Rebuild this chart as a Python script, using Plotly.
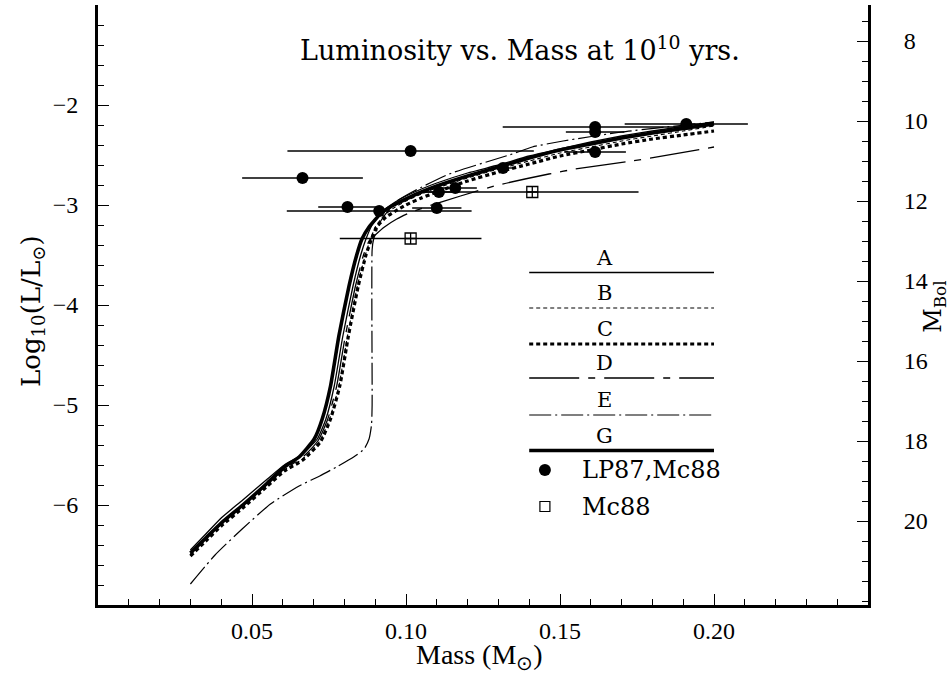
import plotly.graph_objects as go

# ---------------- data ----------------
M_SUN_BOL = 4.6  # M_Bol = M_SUN_BOL - 2.5 log10(L/Lsun)

# Model curves (mass in Msun, log10 L/Lsun)
mass_G = [0.030, 0.035, 0.040, 0.047, 0.055, 0.0605, 0.0653, 0.0702, 0.0728, 0.0755, 0.0782, 0.0815, 0.0840, 0.0857, 0.0880, 0.0920, 0.0960, 0.1000, 0.1050, 0.1100, 0.1200, 0.1300, 0.1400, 0.1500, 0.1600, 0.1700, 0.1800, 0.1900, 0.2000]
logL_G = [-6.48, -6.33, -6.18, -6.00, -5.78, -5.62, -5.52, -5.34, -5.14, -4.81, -4.31, -3.81, -3.50, -3.34, -3.22, -3.08, -3.00, -2.94, -2.87, -2.81, -2.71, -2.62, -2.53, -2.45, -2.39, -2.33, -2.28, -2.235, -2.19]

mass_A = [0.030, 0.035, 0.040, 0.047, 0.055, 0.0605, 0.0660, 0.0712, 0.0740, 0.0767, 0.0795, 0.0828, 0.0853, 0.0870, 0.0890, 0.0925, 0.0965, 0.1000, 0.1050, 0.1100, 0.1200, 0.1300, 0.1400, 0.1500, 0.1600, 0.1700, 0.1800, 0.1900, 0.2000]
logL_A = [-6.45, -6.29, -6.13, -5.95, -5.74, -5.60, -5.50, -5.34, -5.14, -4.81, -4.31, -3.81, -3.50, -3.34, -3.20, -3.06, -2.97, -2.91, -2.84, -2.78, -2.68, -2.60, -2.51, -2.44, -2.37, -2.31, -2.26, -2.215, -2.17]

mass_B = [0.030, 0.035, 0.040, 0.047, 0.055, 0.0605, 0.0665, 0.0720, 0.0752, 0.0782, 0.0810, 0.0842, 0.0868, 0.0885, 0.0900, 0.0930, 0.0965, 0.1000, 0.1050, 0.1100, 0.1200, 0.1300, 0.1400, 0.1500, 0.1600, 0.1700, 0.1800, 0.1900, 0.2000]
logL_B = [-6.50, -6.35, -6.20, -6.02, -5.80, -5.65, -5.54, -5.36, -5.14, -4.81, -4.31, -3.81, -3.50, -3.34, -3.22, -3.10, -3.02, -2.96, -2.89, -2.83, -2.73, -2.64, -2.56, -2.48, -2.42, -2.36, -2.31, -2.26, -2.21]

mass_C = [0.030, 0.035, 0.040, 0.047, 0.055, 0.0605, 0.0665, 0.0722, 0.0755, 0.0785, 0.0813, 0.0845, 0.0870, 0.0888, 0.0905, 0.0935, 0.0966, 0.1000, 0.1050, 0.1100, 0.1200, 0.1300, 0.1400, 0.1500, 0.1600, 0.1700, 0.1800, 0.1900, 0.2000]
logL_C = [-6.51, -6.36, -6.21, -6.03, -5.81, -5.66, -5.55, -5.37, -5.14, -4.81, -4.31, -3.81, -3.50, -3.34, -3.22, -3.12, -3.06, -3.00, -2.93, -2.87, -2.76, -2.67, -2.59, -2.51, -2.45, -2.39, -2.34, -2.30, -2.26]

mass_D = [0.030, 0.035, 0.040, 0.047, 0.055, 0.0605, 0.0662, 0.0716, 0.0746, 0.0775, 0.0803, 0.0836, 0.0862, 0.0880, 0.0900, 0.0930, 0.0970, 0.1010, 0.1064, 0.1177, 0.1300, 0.1464, 0.1550, 0.1734, 0.2000]
logL_D = [-6.49, -6.34, -6.19, -6.01, -5.79, -5.64, -5.53, -5.35, -5.14, -4.81, -4.31, -3.81, -3.50, -3.36, -3.30, -3.22, -3.14, -3.08, -3.02, -2.91, -2.80, -2.69, -2.64, -2.56, -2.42]

mass_E = [0.030, 0.038, 0.0468, 0.0560, 0.0653, 0.0720, 0.0780, 0.0830, 0.0864, 0.0880, 0.0888, 0.0890, 0.0890, 0.0895, 0.0920, 0.0966, 0.1020, 0.1140, 0.1345, 0.1410, 0.1510, 0.1700, 0.2000]
logL_E = [-6.79, -6.50, -6.24, -5.99, -5.81, -5.71, -5.61, -5.52, -5.44, -5.34, -5.20, -5.00, -3.45, -3.34, -3.15, -2.97, -2.87, -2.69, -2.49, -2.42, -2.36, -2.27, -2.17]

# Observations: LP87, Mc88 (filled circles)
obs1_mass = [0.0664, 0.1015, 0.0810, 0.0913, 0.1100, 0.1107, 0.1160, 0.1315, 0.1614, 0.1614, 0.1614, 0.1910]
obs1_logL = [-2.73, -2.46, -3.02, -3.06, -3.03, -2.87, -2.83, -2.63, -2.22, -2.27, -2.47, -2.19]
obs1_xerr = [0.0196, 0.0400, 0.0095, 0.0300, 0.0080, 0.0060, 0.0070, 0.0040, 0.0300, 0.0095, 0.0100, 0.0200]

# Observations: Mc88 (open squares)
obs2_mass = [0.1015, 0.1410]
obs2_logL = [-3.335, -2.87]
obs2_xerr = [0.0230, 0.0345]

# axis ticks
x_ticks = [0.05, 0.10, 0.15, 0.20]
x_ticklabels = ["0.05", "0.10", "0.15", "0.20"]
y_ticks = [-6, -5, -4, -3, -2]
y_ticklabels = ["\u22126", "\u22125", "\u22124", "\u22123", "\u22122"]
mbol_ticks = [8, 10, 12, 14, 16, 18, 20]
mbol_ticklabels = ["8", "10", "12", "14", "16", "18", "20"]

legend_labels = ["A", "B", "C", "D", "E", "G"]
point_labels = ["LP87,Mc88", "Mc88"]

# ---------------- styles / layout ----------------
SERIF = "DejaVu Serif"
TICK_FAMILY = "Liberation Serif"
TICK_SIZE = 24

curve_styles = {
    "A": dict(width=1.3, dash="solid"),
    "B": dict(width=1.1, dash="4px,3px"),
    "C": dict(width=3.2, dash="4px,3px"),
    "D": dict(width=1.3, dash="50px,9px,7px,9px"),
    "E": dict(width=1.2, dash="22px,4px,2px,4px"),
    "G": dict(width=3.6, dash="solid"),
}
curves = {
    "A": (mass_A, logL_A),
    "B": (mass_B, logL_B),
    "C": (mass_C, logL_C),
    "D": (mass_D, logL_D),
    "E": (mass_E, logL_E),
    "G": (mass_G, logL_G),
}

fig = go.Figure()

for name in ["E", "D", "B", "A", "C", "G"]:
    mx, ly = curves[name]
    st = curve_styles[name]
    fig.add_trace(go.Scatter(
        x=mx, y=ly, mode="lines", name=name, showlegend=False,
        line=dict(color="black", width=st["width"], dash=st["dash"], shape="spline", smoothing=0.5),
    ))

fig.add_trace(go.Scatter(
    x=obs1_mass, y=obs1_logL, mode="markers", showlegend=False,
    marker=dict(symbol="circle", size=12, color="black"),
    error_x=dict(type="data", array=obs1_xerr, visible=True, color="black", thickness=1.4, width=0),
))
fig.add_trace(go.Scatter(
    x=obs2_mass, y=obs2_logL, mode="markers", showlegend=False,
    marker=dict(symbol="square-cross-open", size=11, color="black", line=dict(width=1.3, color="black")),
    error_x=dict(type="data", array=obs2_xerr, visible=True, color="black", thickness=1.4, width=0),
))

# invisible trace on the M_Bol axis so that it is drawn
fig.add_trace(go.Scatter(
    x=mass_G, y=[M_SUN_BOL - 2.5 * v for v in logL_G], yaxis="y2",
    mode="lines", line=dict(width=0, color="rgba(0,0,0,0)"), showlegend=False, hoverinfo="skip",
))

# custom legend (label above a line sample), placed in data coordinates
LEG_X0, LEG_X1, LEG_XC = 0.14, 0.20, 0.1645
leg_line_y = [-3.675, -4.03, -4.39, -4.73, -5.10, -5.455]
shapes = []
annotations = []
for lab, yy in zip(legend_labels, leg_line_y):
    st = curve_styles[lab]
    shapes.append(dict(type="line", xref="x", yref="y", x0=LEG_X0, x1=LEG_X1, y0=yy, y1=yy,
                       line=dict(color="black", width=st["width"], dash=st["dash"])))
    annotations.append(dict(x=LEG_XC, y=yy, xref="x", yref="y", text=lab, showarrow=False,
                            xanchor="center", yanchor="bottom", yshift=1,
                            font=dict(family=SERIF, size=21, color="black")))

LEG_MX, LEG_TX = 0.1451, 0.1565
leg_pt_y = [-5.65, -6.015]
fig.add_trace(go.Scatter(x=[LEG_MX], y=[leg_pt_y[0]], mode="markers", showlegend=False,
                         marker=dict(symbol="circle", size=12, color="black")))
fig.add_trace(go.Scatter(x=[LEG_MX], y=[leg_pt_y[1]], mode="markers", showlegend=False,
                         marker=dict(symbol="square-open", size=10, color="black", line=dict(width=1.2))))
for lab, yy in zip(point_labels, leg_pt_y):
    annotations.append(dict(x=LEG_TX, y=yy, xref="x", yref="y", text=lab, showarrow=False,
                            xanchor="left", yanchor="middle", font=dict(family=SERIF, size=24, color="black")))

# title and axis titles
annotations.append(dict(x=0.548, y=0.928, xref="paper", yref="paper", showarrow=False,
                        xanchor="center", yanchor="middle",
                        text="Luminosity vs. Mass at 10<sup>10</sup> yrs.",
                        font=dict(family=SERIF, size=27, color="black")))
annotations.append(dict(x=0.496, y=-0.086, xref="paper", yref="paper", showarrow=False,
                        xanchor="center", yanchor="middle",
                        text="Mass (M<sub>\u2299</sub>)",
                        font=dict(family="Liberation Serif", size=28, color="black")))
annotations.append(dict(x=-0.0857, y=0.49, xref="paper", yref="paper", showarrow=False, textangle=-90,
                        xanchor="center", yanchor="middle",
                        text="Log<sub>10</sub>(L/L<sub>\u2299</sub>)",
                        font=dict(family=SERIF, size=26, color="black")))
annotations.append(dict(x=1.087, y=0.497, xref="paper", yref="paper", showarrow=False, textangle=-90,
                        xanchor="center", yanchor="middle",
                        text="M<sub>Bol</sub>",
                        font=dict(family=SERIF, size=24, color="black")))

fig.update_layout(
    width=951, height=674,
    margin=dict(l=98, r=83, t=5, b=69),
    paper_bgcolor="white", plot_bgcolor="white",
    showlegend=False,
    shapes=shapes, annotations=annotations,
    xaxis=dict(range=[0, 0.25], tickmode="array", tickvals=x_ticks, ticktext=x_ticklabels,
               ticks="inside", ticklen=11, tickwidth=1.2, tickcolor="black",
               minor=dict(dtick=0.01, tick0=0, ticks="inside", ticklen=6, tickwidth=1, tickcolor="black"),
               showline=True, linewidth=3, linecolor="black", mirror=False,
               showgrid=False, zeroline=False,
               tickfont=dict(family=TICK_FAMILY, size=TICK_SIZE, color="black"), ticklabelstandoff=2),
    yaxis=dict(range=[-7, -1], tickmode="array", tickvals=y_ticks, ticktext=y_ticklabels,
               ticks="inside", ticklen=11, tickwidth=1.2, tickcolor="black",
               minor=dict(dtick=0.2, tick0=0, ticks="inside", ticklen=6, tickwidth=1, tickcolor="black"),
               showline=True, linewidth=3, linecolor="black", mirror=False,
               showgrid=False, zeroline=False,
               tickfont=dict(family=TICK_FAMILY, size=TICK_SIZE, color="black"), ticklabelstandoff=12),
    yaxis2=dict(range=[M_SUN_BOL + 2.5 * 7, M_SUN_BOL + 2.5 * 1], overlaying="y", side="right",
                tickmode="array", tickvals=mbol_ticks, ticktext=mbol_ticklabels,
                ticks="inside", ticklen=11, tickwidth=1.2, tickcolor="black",
                minor=dict(dtick=0.5, tick0=0, ticks="inside", ticklen=6, tickwidth=1, tickcolor="black"),
                showline=True, linewidth=3, linecolor="black",
                showgrid=False, zeroline=False,
                tickfont=dict(family=TICK_FAMILY, size=TICK_SIZE, color="black"), ticklabelstandoff=28),
)

fig.write_html("out.html")
